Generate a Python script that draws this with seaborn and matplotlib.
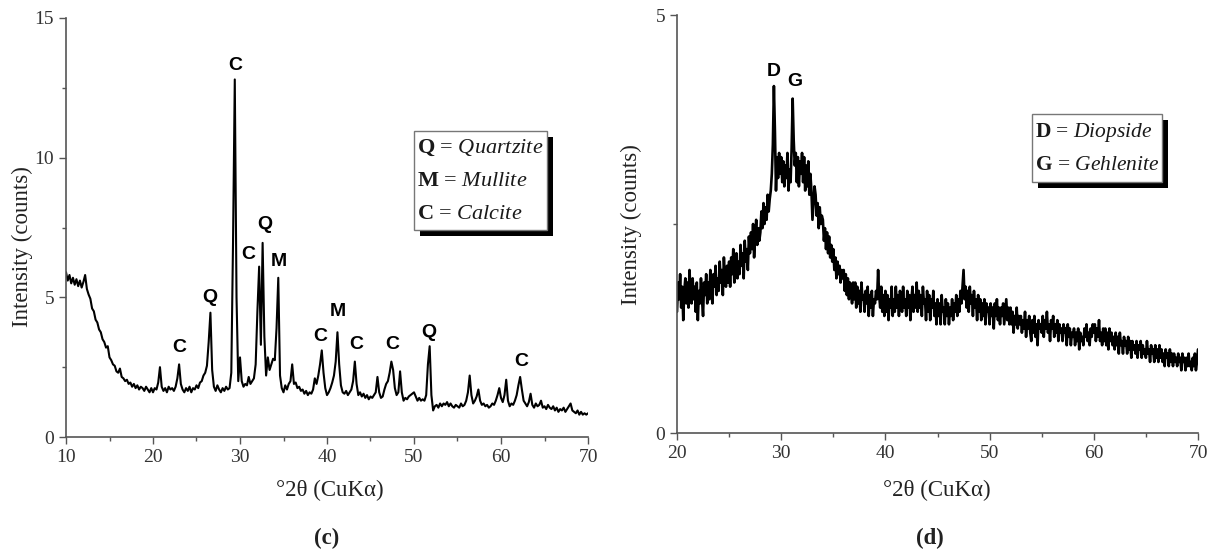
import numpy as np
import pandas as pd
import matplotlib
matplotlib.use("Agg")
import matplotlib.pyplot as plt
from matplotlib.patches import Rectangle
from matplotlib.ticker import MultipleLocator
import seaborn as sns

# ---------------- data ----------------
c_two_theta_start, c_two_theta_end, c_step = 10.0, 70.0, 0.2
c_intensity = [
    # 10.0 - 19.8
    5.9, 5.6, 5.8, 5.5, 5.7, 5.45, 5.65, 5.4, 5.6, 5.35,
    5.55, 5.8, 5.3, 5.1, 4.95, 4.6, 4.5, 4.2, 4.1, 3.85,
    3.75, 3.5, 3.4, 3.2, 3.25, 2.85, 2.75, 2.6, 2.55, 2.35,
    2.3, 2.45, 2.15, 2.1, 2.0, 2.05, 1.9, 1.95, 1.8, 1.9,
    1.75, 1.85, 1.7, 1.8, 1.75, 1.65, 1.8, 1.7, 1.6, 1.75,
    # 20.0 - 29.8
    1.6, 1.75, 1.7, 1.95, 2.5, 1.8, 1.65, 1.75, 1.6, 1.8,
    1.7, 1.75, 1.65, 1.8, 2.1, 2.6, 1.9, 1.7, 1.6, 1.75,
    1.65, 1.8, 1.6, 1.75, 1.7, 1.85, 1.75, 1.95, 2.0, 2.2,
    2.3, 2.55, 3.4, 4.45, 2.4, 1.8, 1.65, 1.85, 1.7, 1.6,
    1.75, 1.65, 1.8, 1.7, 1.75, 2.3, 7.0, 12.8, 5.0, 2.0,
    # 30.0 - 39.8
    2.85, 2.0, 1.8, 1.9, 1.85, 2.15, 1.9, 2.0, 2.1, 2.6,
    4.5, 6.1, 3.3, 6.95, 3.6, 2.2, 2.85, 2.4, 2.6, 2.8,
    2.75, 3.9, 5.7, 2.2, 1.75, 1.6, 1.85, 1.7, 1.9, 2.0,
    2.6, 1.9, 1.95, 1.75, 1.8, 1.65, 1.7, 1.55, 1.65, 1.5,
    1.6, 1.55, 1.7, 2.1, 1.9, 2.2, 2.6, 3.1, 2.3, 1.75,
    # 40.0 - 49.8
    1.5, 1.6, 1.75, 1.95, 2.2, 2.7, 3.75, 2.6, 1.85, 1.6,
    1.55, 1.65, 1.5, 1.6, 1.7, 2.0, 2.7, 1.9, 1.5, 1.6,
    1.45, 1.55, 1.4, 1.5, 1.35, 1.45, 1.4, 1.5, 1.6, 2.15,
    1.6, 1.4, 1.45, 1.7, 1.9, 2.0, 2.3, 2.7, 2.4, 1.75,
    1.5, 1.6, 2.35, 1.6, 1.3, 1.4, 1.35, 1.45, 1.5, 1.55,
    # 50.0 - 59.8
    1.6, 1.45, 1.3, 1.4, 1.3, 1.35, 1.3, 1.5, 2.6, 3.25,
    1.5, 0.95, 1.1, 1.15, 1.05, 1.2, 1.1, 1.2, 1.15, 1.25,
    1.1, 1.2, 1.1, 1.05, 1.15, 1.1, 1.05, 1.2, 1.1, 1.15,
    1.3, 1.6, 2.2, 1.5, 1.2, 1.3, 1.45, 1.7, 1.3, 1.15,
    1.2, 1.1, 1.15, 1.05, 1.1, 1.2, 1.15, 1.3, 1.5, 1.75,
    # 60.0 - 70.0
    1.4, 1.25, 1.5, 2.05, 1.3, 1.1, 1.2, 1.15, 1.3, 1.5,
    1.85, 2.15, 1.7, 1.3, 1.2, 1.1, 1.25, 1.55, 1.15, 1.05,
    1.2, 1.1, 1.15, 1.3, 1.05, 1.1, 1.0, 1.15, 1.05, 1.0,
    1.1, 0.95, 1.05, 0.9, 1.0, 0.95, 1.05, 0.9, 1.0, 1.1,
    1.2, 0.95, 0.9, 0.85, 0.95, 0.8, 0.9, 0.8, 0.85, 0.8, 0.85,
]

# panel (d): one row per degree, 0.1 degree steps
d_two_theta_start, d_two_theta_end, d_step = 20.0, 70.0, 0.1
d_intensity = [
    1.45, 1.8, 1.6, 1.9, 1.5, 1.75, 1.35, 1.7, 1.85, 1.55,    # 20
    1.8, 1.5, 1.95, 1.65, 1.55, 1.85, 1.6, 1.75, 1.45, 1.8,   # 21
    1.35, 1.7, 1.55, 1.85, 1.6, 1.4, 1.8, 1.65, 1.9, 1.55,    # 22
    1.8, 1.6, 1.95, 1.7, 1.55, 1.9, 1.75, 2.0, 1.65, 1.85,    # 23
    1.7, 2.05, 1.8, 1.95, 1.65, 2.1, 1.85, 1.75, 2.0, 1.8,    # 24
    2.05, 1.75, 2.1, 1.9, 2.2, 1.8, 1.95, 2.15, 1.85, 2.05,   # 25
    1.9, 2.25, 2.0, 2.15, 1.85, 2.3, 2.05, 2.2, 1.95, 2.35,   # 26
    2.15, 2.4, 2.2, 2.5, 2.1, 2.35, 2.55, 2.25, 2.45, 2.3,    # 27
    2.4, 2.65, 2.45, 2.75, 2.5, 2.7, 2.55, 2.85, 2.65, 2.8,   # 28
    2.9, 3.1, 3.45, 4.15, 3.6, 2.9, 3.3, 3.05, 3.35, 3.1,     # 29
    3.3, 3.0, 3.25, 2.95, 3.2, 3.05, 3.35, 2.9, 3.15, 3.0,    # 30
    3.4, 4.0, 3.5, 3.2, 3.35, 3.0, 3.3, 2.95, 3.25, 3.1,      # 31
    3.35, 3.0, 3.3, 2.9, 3.2, 2.95, 3.25, 2.85, 3.1, 2.9,     # 32
    2.55, 2.75, 2.95, 2.85, 2.6, 2.75, 2.45, 2.7, 2.5, 2.6,   # 33
    2.55, 2.3, 2.45, 2.2, 2.4, 2.15, 2.35, 2.1, 2.25, 2.05,   # 34
    2.2, 1.95, 2.1, 1.85, 2.05, 1.9, 2.0, 1.8, 1.95, 1.85,    # 35
    1.95, 1.7, 1.9, 1.65, 1.85, 1.6, 1.8, 1.7, 1.55, 1.8,     # 36
    1.6, 1.8, 1.5, 1.75, 1.55, 1.7, 1.45, 1.8, 1.6, 1.65,     # 37
    1.45, 1.7, 1.55, 1.75, 1.4, 1.65, 1.5, 1.7, 1.4, 1.6,     # 38
    1.55, 1.7, 1.6, 1.95, 1.65, 1.5, 1.75, 1.45, 1.65, 1.4,   # 39
    1.7, 1.45, 1.65, 1.35, 1.6, 1.5, 1.75, 1.4, 1.6, 1.45,    # 40
    1.75, 1.5, 1.65, 1.4, 1.7, 1.55, 1.45, 1.75, 1.5, 1.6,    # 41
    1.4, 1.7, 1.5, 1.65, 1.35, 1.6, 1.75, 1.45, 1.65, 1.5,    # 42
    1.8, 1.45, 1.7, 1.5, 1.65, 1.4, 1.75, 1.55, 1.6, 1.35,    # 43
    1.7, 1.45, 1.65, 1.35, 1.6, 1.5, 1.7, 1.4, 1.55, 1.3,     # 44
    1.6, 1.4, 1.55, 1.3, 1.65, 1.45, 1.5, 1.3, 1.6, 1.4,      # 45
    1.55, 1.3, 1.5, 1.4, 1.6, 1.35, 1.55, 1.45, 1.65, 1.4,    # 46
    1.6, 1.45, 1.7, 1.55, 1.75, 1.95, 1.6, 1.75, 1.5, 1.7,    # 47
    1.45, 1.75, 1.55, 1.65, 1.4, 1.7, 1.5, 1.6, 1.35, 1.65,   # 48
    1.45, 1.6, 1.35, 1.55, 1.4, 1.6, 1.3, 1.55, 1.45, 1.5,    # 49
    1.3, 1.55, 1.4, 1.5, 1.25, 1.55, 1.4, 1.6, 1.35, 1.5,     # 50
    1.3, 1.5, 1.4, 1.55, 1.3, 1.45, 1.6, 1.35, 1.5, 1.3,      # 51
    1.5, 1.3, 1.45, 1.2, 1.4, 1.3, 1.5, 1.25, 1.4, 1.3,       # 52
    1.4, 1.2, 1.35, 1.25, 1.45, 1.15, 1.35, 1.25, 1.4, 1.2,   # 53
    1.1, 1.35, 1.2, 1.4, 1.15, 1.3, 1.05, 1.35, 1.25, 1.3,    # 54
    1.2, 1.4, 1.15, 1.35, 1.25, 1.45, 1.2, 1.3, 1.1, 1.35,    # 55
    1.25, 1.4, 1.15, 1.3, 1.2, 1.35, 1.1, 1.3, 1.2, 1.25,     # 56
    1.1, 1.3, 1.2, 1.25, 1.05, 1.3, 1.15, 1.25, 1.05, 1.2,    # 57
    1.15, 1.25, 1.05, 1.2, 1.1, 1.25, 1.0, 1.2, 1.1, 1.15,    # 58
    1.05, 1.25, 1.15, 1.3, 1.1, 1.2, 1.05, 1.25, 1.15, 1.3,   # 59
    1.2, 1.3, 1.1, 1.25, 1.15, 1.35, 1.1, 1.2, 1.05, 1.25,    # 60
    1.1, 1.25, 1.05, 1.2, 1.0, 1.25, 1.1, 1.2, 1.05, 1.15,    # 61
    1.0, 1.2, 1.05, 1.15, 0.95, 1.2, 1.05, 1.1, 0.95, 1.15,   # 62
    1.05, 1.1, 0.95, 1.15, 1.0, 1.1, 0.9, 1.1, 1.0, 1.05,     # 63
    0.95, 1.1, 0.9, 1.05, 1.0, 1.1, 0.9, 1.05, 0.95, 1.0,     # 64
    0.9, 1.1, 0.95, 1.0, 0.85, 1.05, 0.95, 1.0, 0.85, 1.05,   # 65
    0.9, 1.0, 0.85, 1.05, 0.9, 1.0, 0.85, 0.95, 0.8, 1.0,     # 66
    0.9, 0.95, 0.8, 1.0, 0.85, 0.95, 0.8, 0.95, 0.85, 0.9,    # 67
    0.8, 0.95, 0.85, 0.9, 0.75, 0.95, 0.85, 0.9, 0.75, 0.9,   # 68
    0.8, 0.95, 0.8, 0.85, 0.75, 0.9, 0.8, 0.95, 0.75, 0.85,   # 69
    1.0,                                                      # 70
]

c_peak_letters = ["C", "Q", "C", "C", "Q", "M", "C", "M", "C", "C", "Q", "C"]
c_peak_x = [29.4, 26.5, 23.0, 31.0, 32.8, 34.5, 39.2, 41.3, 43.4, 47.5, 51.7, 62.3]
c_peak_y = [13.3, 5.0, 3.2, 6.55, 7.6, 6.3, 3.6, 4.5, 3.3, 3.3, 3.75, 2.7]

d_peak_letters = ["D", "G"]
d_peak_x = [29.25, 31.3]
d_peak_y = [4.33, 4.2]

c_legend = [("Q", "Quartzite"), ("M", "Mullite"), ("C", "Calcite")]
d_legend = [("D", "Diopside"), ("G", "Gehlenite")]

x_label = "°2θ (CuKα)"
y_label = "Intensity (counts)"

# ---------------- figure ----------------
sns.set_style("ticks")
plt.rcParams["font.family"] = ["Liberation Serif", "DejaVu Serif"]
plt.rcParams["mathtext.fontset"] = "custom"
plt.rcParams["mathtext.rm"] = "Liberation Serif"
plt.rcParams["mathtext.it"] = "Liberation Serif:italic"
plt.rcParams["mathtext.bf"] = "Liberation Serif:bold"

W, H = 1214, 557
fig = plt.figure(figsize=(W / 100, H / 100), dpi=100)

def px_axes(left, top, right, bottom):
    return fig.add_axes([left / W, 1 - bottom / H, (right - left) / W, (bottom - top) / H])

C_BOX = (66, 18, 588, 437)
D_BOX = (677, 15, 1198, 433)
ax_c = px_axes(*C_BOX)
ax_d = px_axes(*D_BOX)

c_x = np.round(np.arange(c_two_theta_start, c_two_theta_end + c_step / 2, c_step), 2)
d_x = np.round(np.arange(d_two_theta_start, d_two_theta_end + d_step / 2, d_step), 2)
df_c = pd.DataFrame({"two_theta": c_x, "intensity": c_intensity})
df_d = pd.DataFrame({"two_theta": d_x, "intensity": d_intensity})

sns.lineplot(data=df_c, x="two_theta", y="intensity", ax=ax_c, color="black", lw=1.5)
sns.lineplot(data=df_d, x="two_theta", y="intensity", ax=ax_d, color="black", lw=1.9)

spine_col = "#555555"
tick_col = "#333333"
for ax in (ax_c, ax_d):
    sns.despine(ax=ax)
    for s in ("left", "bottom"):
        ax.spines[s].set_color(spine_col)
        ax.spines[s].set_linewidth(1.2)
    ax.tick_params(which="both", direction="out", colors=spine_col, labelcolor=tick_col,
                   labelsize=14, width=1.0)
    ax.tick_params(which="major", length=5)
    ax.tick_params(which="minor", length=3)
    ax.set_xlabel("")
    ax.set_ylabel("")

ax_c.set_xlim(10, 70)
ax_c.set_ylim(0, 15)
ax_c.xaxis.set_major_locator(MultipleLocator(10))
ax_c.xaxis.set_minor_locator(MultipleLocator(5))
ax_c.yaxis.set_major_locator(MultipleLocator(5))
ax_c.yaxis.set_minor_locator(MultipleLocator(2.5))

ax_d.set_xlim(20, 70)
ax_d.set_ylim(0, 5)
ax_d.xaxis.set_major_locator(MultipleLocator(10))
ax_d.xaxis.set_minor_locator(MultipleLocator(5))
ax_d.yaxis.set_major_locator(MultipleLocator(5))
ax_d.yaxis.set_minor_locator(MultipleLocator(2.5))

peak_font = dict(family=["Liberation Sans", "DejaVu Sans"], fontweight="bold", fontsize=14,
                 ha="center", va="center", color="black")
for lab, x, y in zip(c_peak_letters, c_peak_x, c_peak_y):
    ax_c.text(x, y, lab, **peak_font)
for lab, x, y in zip(d_peak_letters, d_peak_x, d_peak_y):
    ax_d.text(x, y, lab, **peak_font)

def legend_box(ax, box, entries, line_ys, shadow_px, axbox, fs):
    ax_w = axbox[2] - axbox[0]
    ax_h = axbox[3] - axbox[1]
    x0, y0, x1, y1 = box
    dx, dy = shadow_px / ax_w, shadow_px / ax_h
    ax.add_patch(Rectangle((x0 + dx, y0 - dy), x1 - x0, y1 - y0, transform=ax.transAxes,
                           facecolor="black", edgecolor="black", lw=0, zorder=5, clip_on=False))
    ax.add_patch(Rectangle((x0, y0), x1 - x0, y1 - y0, transform=ax.transAxes,
                           facecolor="white", edgecolor="#777777", lw=1.0, zorder=6, clip_on=False))
    for (abbr, name), yy in zip(entries, line_ys):
        ax.text(x0 + 3 / ax_w, yy, r"$\mathbf{%s}$ = $\mathit{%s}$" % (abbr, name),
                transform=ax.transAxes, fontsize=fs, ha="left", va="center",
                color="#1a1a1a", zorder=7)

legend_box(ax_c, (0.667, 0.494, 0.921, 0.730), c_legend, [0.690, 0.609, 0.530], 6, C_BOX, 16)
legend_box(ax_d, (0.682, 0.600, 0.930, 0.763), d_legend, [0.718, 0.641], 6, D_BOX, 15.5)

lab_kw = dict(fontsize=16.5, color="#222222", ha="center", va="center")
fig.text(22 / W, 1 - 247 / H, y_label, rotation=90, **lab_kw)
fig.text(631 / W, 1 - 225 / H, y_label, rotation=90, **lab_kw)
fig.text(330 / W, 1 - 490 / H, x_label, **lab_kw)
fig.text(937 / W, 1 - 490 / H, x_label, **lab_kw)
fig.text(327 / W, 1 - 538 / H, "(c)", fontweight="bold", **lab_kw)
fig.text(930 / W, 1 - 538 / H, "(d)", fontweight="bold", **lab_kw)

fig.savefig("out.png", dpi=100)
